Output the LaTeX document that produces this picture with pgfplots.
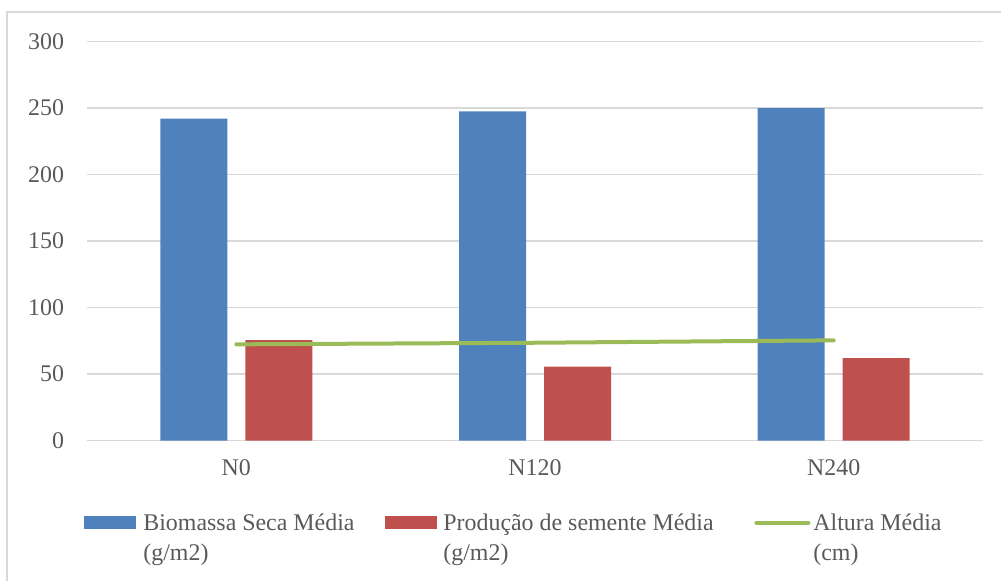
\documentclass[border=0pt]{standalone}
\usepackage{pgfplots}
\pgfplotsset{compat=1.18}
\usepackage{fontspec}
\setmainfont{Liberation Serif}
\definecolor{cblue}{HTML}{4F81BD}
\definecolor{cred}{HTML}{C0504D}
\definecolor{cgreen}{HTML}{9BBB59}
\definecolor{ctext}{HTML}{595959}
\definecolor{cgrid}{HTML}{D9D9D9}
\begin{document}
\begin{tikzpicture}
\path[use as bounding box] (0,0) rectangle (500.5bp,290.5bp);
\draw[cgrid, line width=0.75bp] (3.5bp,-1bp) -- (3.5bp,284.5bp) -- (502bp,284.5bp);
\begin{axis}[
  at={(43.5bp,70.25bp)}, anchor=south west,
  width=448bp, height=199.5bp, scale only axis,
  xmin=-0.5, xmax=2.5, ymin=0, ymax=300,
  xtick={0,1,2}, xticklabels={N0,N120,N240},
  ytick={0,50,...,300},
  ymajorgrids, grid style={cgrid, line width=0.75bp},
  axis line style={draw=none},
  major tick length=0pt,
  tick label style={font=\fontsize{12}{14}\selectfont, text=ctext},
  /pgf/number format/assume math mode=true,
  yticklabel style={anchor=east, xshift=-8bp},
  xticklabel style={anchor=north, yshift=-6bp},
  legend columns=3,
  legend style={draw=none, fill=none, inner sep=0pt,
    at={(-0.00335,-0.182)}, anchor=north west,
    nodes={inner sep=0pt, font=\fontsize{12}{15}\selectfont, text=ctext},
    cells={anchor=base west},
    /tikz/every even column/.append style={column sep=0bp},
    /tikz/every odd column/.append style={column sep=0bp}},
]
\addplot[ybar, bar width=33.5bp, bar shift=-21.25bp, fill=cblue, draw=none,
  legend image code/.code={\fill[cblue] (0bp,0.5bp) rectangle (26bp,7bp);}]
  coordinates {(0,242) (1,247.5) (2,250)};
\addlegendentry{\parbox[t]{124.5bp}{\hspace*{3.5bp}Biomassa Seca Média\\\hspace*{3.5bp}(g/m2)}}
\addplot[ybar, bar width=33.5bp, bar shift=21.25bp, fill=cred, draw=none,
  legend image code/.code={\fill[cred] (0bp,0.5bp) rectangle (26bp,7bp);}]
  coordinates {(0,75.5) (1,55.5) (2,62)};
\addlegendentry{\parbox[t]{158.5bp}{\hspace*{3bp}Produção de semente Média\\\hspace*{3bp}(g/m2)}}
\addplot[cgreen, line width=2bp, line cap=round, mark=none,
  legend image code/.code={\draw[cgreen, line width=2bp, line cap=round] (1bp,3.75bp) -- (27bp,3.75bp);}]
  coordinates {(0,72.3) (1,73.5) (2,75.3)};
\addlegendentry{\parbox[t]{90bp}{\hspace*{1.5bp}Altura Média\\\hspace*{1.5bp}(cm)}}
\end{axis}
\end{tikzpicture}
\end{document}
